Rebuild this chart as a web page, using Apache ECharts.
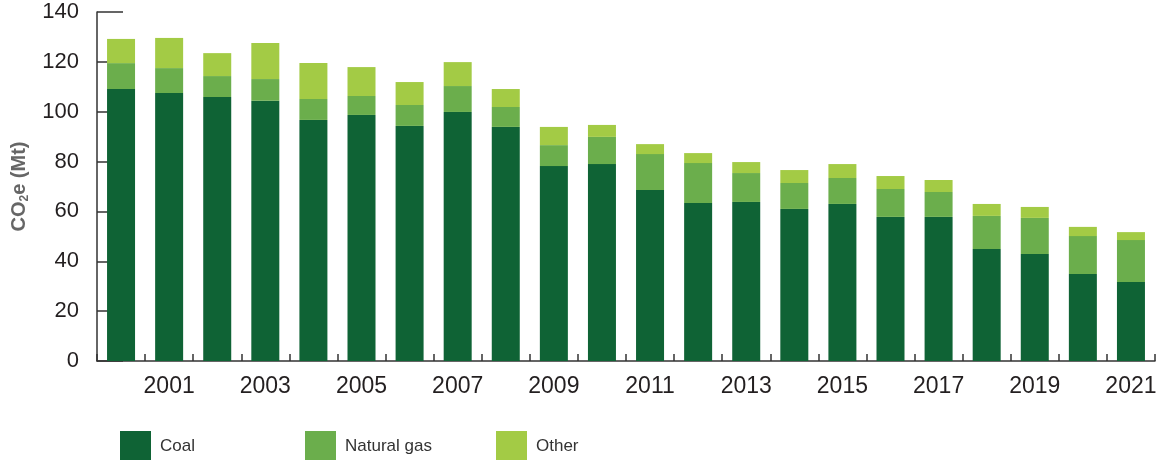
<!DOCTYPE html>
<html>
<head>
<meta charset="utf-8">
<script src="https://cdn.jsdelivr.net/npm/echarts@6/dist/echarts.min.js"></script>
<style>
html,body{margin:0;padding:0;background:#fff;}
#chart{width:1164px;height:460px;}
</style>
</head>
<body>
<div id="chart"></div>
<script>
const years = ['2000','2001','2002','2003','2004','2005','2006','2007','2008','2009','2010','2011','2012','2013','2014','2015','2016','2017','2018','2019','2020','2021'];
const coal = [109.1,107.5,105.9,104.4,96.7,98.7,94.3,99.9,93.9,78.2,79.0,68.6,63.4,63.8,61.0,63.0,57.8,57.8,44.9,42.9,34.9,31.7];
const naturalGas = [10.4,10.0,8.4,8.7,8.4,7.6,8.4,10.4,8.0,8.4,10.9,14.4,16.0,11.6,10.4,10.4,11.2,10.0,13.3,14.5,15.2,16.8];
const other = [9.7,12.1,9.2,14.5,14.4,11.6,9.2,9.6,7.2,7.3,4.8,4.0,4.0,4.4,5.2,5.6,5.2,4.8,4.8,4.4,3.7,3.2];
const seriesNames = ['Coal','Natural gas','Other'];
const colors = ['#0f6335','#6bae4c','#a3cb45'];

const FONT = '"Liberation Sans", Arial, Helvetica, sans-serif';
const chart = echarts.init(document.getElementById('chart'), null, {renderer:'canvas'});

function legendFor(name, left){
  return {
    data:[name], left:left, top:431, padding:0, icon:'rect',
    itemWidth:31, itemHeight:30, selectedMode:false,
    textStyle:{fontFamily:FONT, fontSize:17, color:'#333', padding:[0,0,0,4]}
  };
}

const option = {
  animation:false,
  color: colors,
  grid:{left:97, right:9, top:12, bottom:99, containLabel:false, outerBoundsMode:'none'},
  legend:[legendFor('Coal',120), legendFor('Natural gas',305), legendFor('Other',496)],
  xAxis:{
    type:'category', data:years, boundaryGap:true,
    axisLine:{lineStyle:{color:'#333', width:1.5}},
    axisTick:{show:true, inside:true, length:7, interval:0, lineStyle:{color:'#333', width:1.5}},
    axisLabel:{
      interval:function(i){return i % 2 === 1;},
      fontFamily:FONT, fontSize:23, color:'#231f20', margin:14
    }
  },
  yAxis:{
    type:'value', min:0, max:140, interval:20,
    name:'{a|CO}{s|2}{a|e (Mt)}', nameLocation:'middle', nameGap:64,
    nameTextStyle:{
      rich:{
        a:{fontFamily:FONT, fontWeight:'bold', fontSize:20, color:'#666', lineHeight:28},
        s:{fontFamily:FONT, fontWeight:'bold', fontSize:12, color:'#666', lineHeight:28, padding:[11,0,0,0]}
      }
    },
    axisLine:{show:true, lineStyle:{color:'#333', width:1.5}},
    axisTick:{show:true, inside:true, length:26, lineStyle:{color:'#333', width:1.5}},
    splitLine:{show:false},
    axisLabel:{fontFamily:FONT, fontSize:22, color:'#231f20', margin:18}
  },
  series:[
    {name:seriesNames[0], type:'bar', stack:'t', data:coal, barWidth:28, itemStyle:{color:colors[0]}},
    {name:seriesNames[1], type:'bar', stack:'t', data:naturalGas, barWidth:28, itemStyle:{color:colors[1]}},
    {name:seriesNames[2], type:'bar', stack:'t', data:other, barWidth:28, itemStyle:{color:colors[2]}}
  ]
};
chart.setOption(option);
</script>
</body>
</html>
